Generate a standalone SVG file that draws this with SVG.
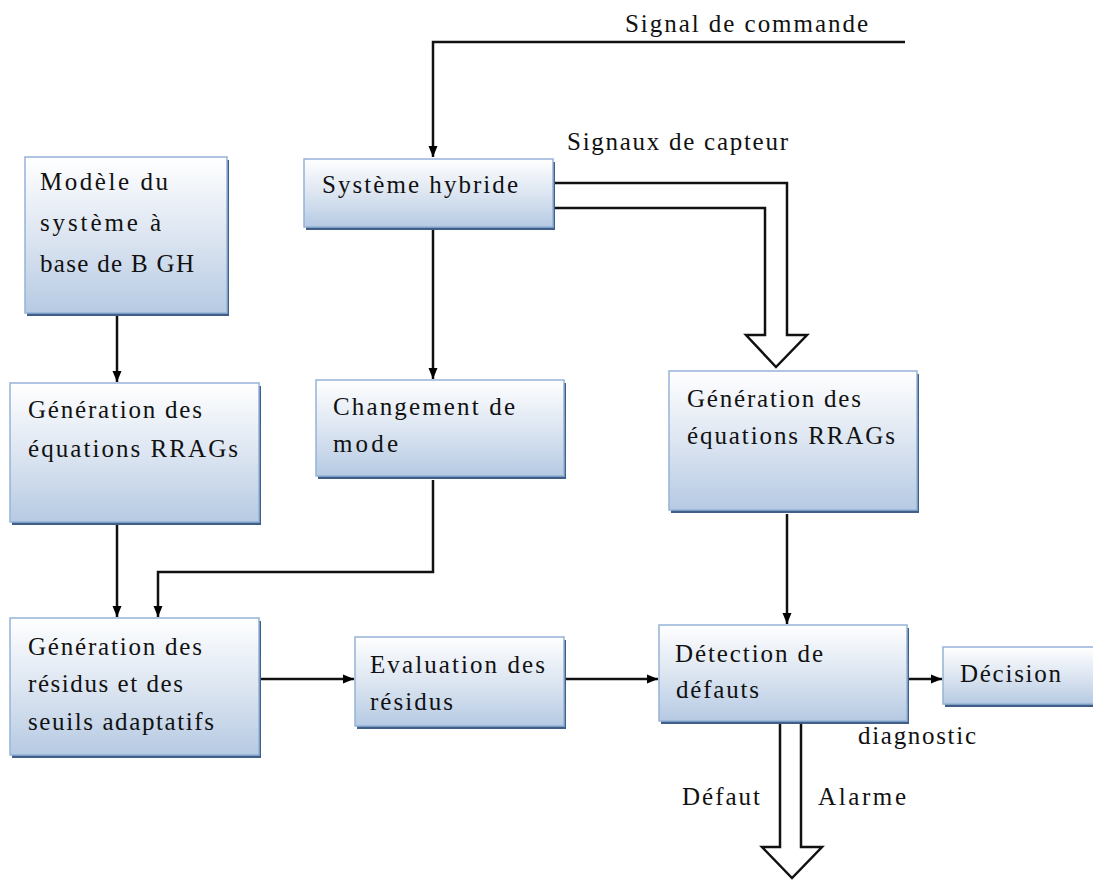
<svg xmlns="http://www.w3.org/2000/svg" width="1093" height="882" viewBox="0 0 1093 882">
<defs>
<linearGradient id="boxGrad" x1="0" y1="0" x2="0" y2="1">
<stop offset="0" stop-color="#ffffff"/>
<stop offset="0.55" stop-color="#d9e3f0"/>
<stop offset="1" stop-color="#b6cae3"/>
</linearGradient>
<marker id="arr" markerUnits="userSpaceOnUse" markerWidth="12" markerHeight="12" viewBox="0 0 12 12" refX="11" refY="6" orient="auto">
<path d="M0,1.5 L11,6 L0,10.5 Z" fill="#000"/>
</marker>
<style>
.shadow{fill:#3f5f88;}
.box{fill:url(#boxGrad);stroke:#95b3d7;stroke-width:1.5;}
.lbl{font-family:"Liberation Serif","DejaVu Serif",serif;font-size:25px;fill:#111;}
.conn{fill:none;stroke:#111;stroke-width:2.5;}
.hollow{fill:#fff;stroke:#111;stroke-width:2.5;stroke-linejoin:miter;}
</style>
</defs>
<rect width="1093" height="882" fill="#ffffff"/>

<g id="connectors">
<path class="conn" d="M905,42 H433 V157" marker-end="url(#arr)"/>
<path class="conn" d="M433,229 V379" marker-end="url(#arr)"/>
<path class="hollow" d="M553,183 H787 V335 H807 L776,367 L746,335 H765 V208 H553"/>
<path class="conn" d="M117,316 V382" marker-end="url(#arr)"/>
<path class="conn" d="M117,525 V617" marker-end="url(#arr)"/>
<path class="conn" d="M433,480 V572 H158 V617" marker-end="url(#arr)"/>
<path class="conn" d="M260,679 H354" marker-end="url(#arr)"/>
<path class="conn" d="M565,679 H658" marker-end="url(#arr)"/>
<path class="conn" d="M787,514 V624" marker-end="url(#arr)"/>
<path class="conn" d="M908,679 H942" marker-end="url(#arr)"/>
<path class="hollow" d="M780,724 V847 H762 L792,878 L822,847 H801 V724"/>
</g>

<g id="node-modele">
<rect class="shadow" x="27" y="160" width="202" height="156"/>
<rect class="box" x="25" y="157" width="202" height="156"/>
<text class="lbl" x="40" y="190" textLength="128" lengthAdjust="spacing">Modèle du</text>
<text class="lbl" x="40" y="231" textLength="121" lengthAdjust="spacing">système  à</text>
<text class="lbl" x="40" y="272" textLength="154" lengthAdjust="spacing">base de B GH</text>
</g>

<g id="node-systeme">
<rect class="shadow" x="306" y="162" width="249" height="68"/>
<rect class="box" x="304" y="159" width="249" height="68"/>
<text class="lbl" x="322" y="193" textLength="196" lengthAdjust="spacing">Système hybride</text>
</g>

<g id="node-gen-left">
<rect class="shadow" x="12" y="386" width="249" height="139"/>
<rect class="box" x="10" y="383" width="249" height="139"/>
<text class="lbl" x="28" y="418" textLength="174" lengthAdjust="spacing">Génération des</text>
<text class="lbl" x="28" y="457" textLength="210" lengthAdjust="spacing">équations RRAGs</text>
</g>

<g id="node-changement">
<rect class="shadow" x="318" y="383" width="248" height="96"/>
<rect class="box" x="316" y="380" width="248" height="96"/>
<text class="lbl" x="333" y="415" textLength="182" lengthAdjust="spacing">Changement de</text>
<text class="lbl" x="333" y="452" textLength="65" lengthAdjust="spacing">mode</text>
</g>

<g id="node-gen-right">
<rect class="shadow" x="671" y="374" width="248" height="139"/>
<rect class="box" x="669" y="371" width="248" height="139"/>
<text class="lbl" x="687" y="407" textLength="174" lengthAdjust="spacing">Génération des</text>
<text class="lbl" x="687" y="444" textLength="208" lengthAdjust="spacing">équations RRAGs</text>
</g>

<g id="node-residus">
<rect class="shadow" x="12" y="621" width="249" height="137"/>
<rect class="box" x="10" y="618" width="249" height="137"/>
<text class="lbl" x="28" y="655" textLength="174" lengthAdjust="spacing">Génération des</text>
<text class="lbl" x="28" y="692" textLength="155" lengthAdjust="spacing">résidus et des</text>
<text class="lbl" x="28" y="730" textLength="186" lengthAdjust="spacing">seuils adaptatifs</text>
</g>

<g id="node-evaluation">
<rect class="shadow" x="357" y="640" width="209" height="89"/>
<rect class="box" x="355" y="637" width="209" height="89"/>
<text class="lbl" x="370" y="673" textLength="175" lengthAdjust="spacing">Evaluation des</text>
<text class="lbl" x="370" y="710" textLength="83" lengthAdjust="spacing">résidus</text>
</g>

<g id="node-detection">
<rect class="shadow" x="661" y="628" width="248" height="96"/>
<rect class="box" x="659" y="625" width="248" height="96"/>
<text class="lbl" x="675" y="662" textLength="148" lengthAdjust="spacing">Détection de</text>
<text class="lbl" x="676" y="698" textLength="83" lengthAdjust="spacing">défauts</text>
</g>

<g id="node-decision">
<rect class="shadow" x="945" y="650" width="150" height="57"/>
<rect class="box" x="943" y="647" width="155" height="57"/>
<text class="lbl" x="960" y="682" textLength="101" lengthAdjust="spacing">Décision</text>
</g>

<g id="labels">
<text class="lbl" x="625" y="32" textLength="243" lengthAdjust="spacing">Signal de commande</text>
<text class="lbl" x="567" y="150" textLength="221" lengthAdjust="spacing">Signaux de capteur</text>
<text class="lbl" x="858" y="744" textLength="118" lengthAdjust="spacing">diagnostic</text>
<text class="lbl" x="682" y="805" textLength="78" lengthAdjust="spacing">Défaut</text>
<text class="lbl" x="818" y="805" textLength="88" lengthAdjust="spacing">Alarme</text>
</g>
</svg>
